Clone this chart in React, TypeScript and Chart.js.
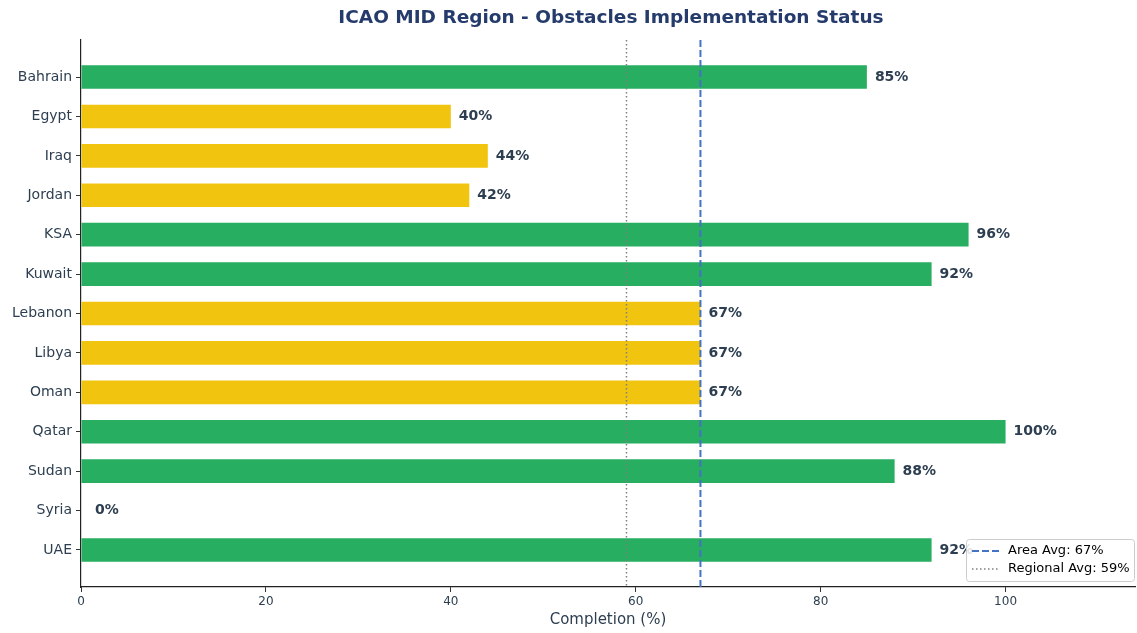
import React, { useEffect, useRef } from 'react';
import { Chart, registerables } from 'chart.js';
Chart.register(...registerables);

const countries = ['Bahrain', 'Egypt', 'Iraq', 'Jordan', 'KSA', 'Kuwait', 'Lebanon', 'Libya', 'Oman', 'Qatar', 'Sudan', 'Syria', 'UAE'];
const completion = [85, 40, 44, 42, 96, 92, 67, 67, 67, 100, 88, 0, 92];
const areaAvg = 67;
const regionalAvg = 59;
const xTicks = [0, 20, 40, 60, 80, 100];
const titleText = 'ICAO MID Region - Obstacles Implementation Status';
const xTitle = 'Completion (%)';

const GREEN = '#27AE60';
const YELLOW = '#F1C40F';
const BLUE = '#4472C4';
const GREY = '#808080';
const TEXT = '#2C3E50';
const FONT = 'DejaVu Sans';

export default function App() {
  const ref = useRef<HTMLCanvasElement>(null);
  useEffect(() => {
    document.body.style.margin = '0';
    const ctx = ref.current!;
    const overlay = {
      id: 'overlay',
      afterDatasetsDraw(chart: any) {
        const c = chart.ctx;
        const xs = chart.scales.x;
        const ys = chart.scales.y;
        const area = chart.chartArea;
        c.save();
        // regional avg dotted
        let px = xs.getPixelForValue(regionalAvg);
        c.strokeStyle = GREY;
        c.lineWidth = 1.5;
        c.setLineDash([1.5, 2.5]);
        c.beginPath();
        c.moveTo(px, area.top);
        c.lineTo(px, area.bottom);
        c.stroke();
        // area avg dashed
        px = xs.getPixelForValue(areaAvg);
        c.strokeStyle = BLUE;
        c.lineWidth = 2;
        c.setLineDash([7, 3]);
        c.beginPath();
        c.moveTo(px, area.top);
        c.lineTo(px, area.bottom);
        c.stroke();
        c.setLineDash([]);
        // value labels
        c.fillStyle = TEXT;
        c.font = `bold 14px "${FONT}"`;
        c.textAlign = 'left';
        c.textBaseline = 'middle';
        completion.forEach((v, i) => {
          const x = xs.getPixelForValue(v) + (v === 0 ? 14 : 8);
          const y = ys.getPixelForValue(i);
          c.fillText(`${v}%`, x, y);
        });
        // title
        c.fillStyle = '#243B6B';
        c.font = `bold 18.5px "${FONT}"`;
        c.textAlign = 'center';
        c.fillText(titleText, (area.left + area.right) / 2 + 3, 18);
        // legend
        const lw = 168, lh = 42;
        const lx = area.right - lw - 1, ly = area.bottom - lh - 6;
        c.fillStyle = 'rgba(255,255,255,0.85)';
        c.strokeStyle = '#CCCCCC';
        c.lineWidth = 1;
        c.beginPath();
        (c as any).roundRect(lx + 0.5, ly + 0.5, lw, lh, 3);
        c.fill();
        c.stroke();
        c.font = `13px "${FONT}"`;
        c.textAlign = 'left';
        c.fillStyle = '#000';
        const r1 = ly + 12, r2 = ly + 30;
        c.strokeStyle = BLUE; c.lineWidth = 2; c.setLineDash([7, 3]);
        c.beginPath(); c.moveTo(lx + 6, r1); c.lineTo(lx + 34, r1); c.stroke();
        c.strokeStyle = GREY; c.lineWidth = 1.5; c.setLineDash([1.5, 2.5]);
        c.beginPath(); c.moveTo(lx + 6, r2); c.lineTo(lx + 34, r2); c.stroke();
        c.setLineDash([]);
        c.fillText(`Area Avg: ${areaAvg}%`, lx + 42, r1);
        c.fillText(`Regional Avg: ${regionalAvg}%`, lx + 42, r2);
        c.restore();
      },
    };
    const chart = new Chart(ctx, {
      type: 'bar',
      data: {
        datasets: [
          {
            data: completion.map((v, i) => ({ x: v, y: i })) as any,
            backgroundColor: completion.map((v) => (v >= 80 ? GREEN : YELLOW)),
            borderWidth: 0,
            barPercentage: 0.6,
            categoryPercentage: 1,
          },
        ],
      },
      options: {
        indexAxis: 'y',
        animation: false,
        responsive: false,
        layout: { padding: { top: 40, right: 2, left: 0, bottom: 0 } },
        plugins: { legend: { display: false }, tooltip: { enabled: false }, title: { display: false } },
        scales: {
          y: {
            type: 'linear',
            offset: false,
            min: -0.94,
            max: 12.94,
            reverse: true,
            afterFit: (s: any) => { s.width = 81; },
            afterBuildTicks: (s: any) => { s.ticks = countries.map((_, i) => ({ value: i })); },
            ticks: {
              autoSkip: false,
              callback: (v: any) => countries[v] ?? '',
              color: TEXT,
              font: { family: FONT, size: 14 },
              padding: 4,
            },
            grid: { offset: false, drawOnChartArea: false, tickLength: 5, color: '#333', tickColor: '#333' },
            border: { color: '#222', width: 1.2 },
          },
          x: {
            type: 'linear',
            min: 0,
            max: 114,
            afterFit: (s: any) => { s.height = 46; },
            afterBuildTicks: (s: any) => { s.ticks = xTicks.map((v) => ({ value: v })); },
            ticks: { color: TEXT, font: { family: FONT, size: 12 }, padding: 3, maxRotation: 0 },
            grid: { drawOnChartArea: false, tickLength: 5, color: '#333', tickColor: '#333' },
            border: { color: '#222', width: 1.2 },
            title: { display: true, text: xTitle, color: TEXT, font: { family: FONT, size: 15 }, padding: { top: 2, bottom: 4 } },
          },
        },
      },
      plugins: [overlay],
    });
    return () => chart.destroy();
  }, []);
  return (
    <div style={{ position: 'absolute', left: 0, top: 0, width: 1137, height: 633 }}>
      <canvas ref={ref} width={1137} height={633} style={{ width: 1137, height: 633 }} />
    </div>
  );
}
